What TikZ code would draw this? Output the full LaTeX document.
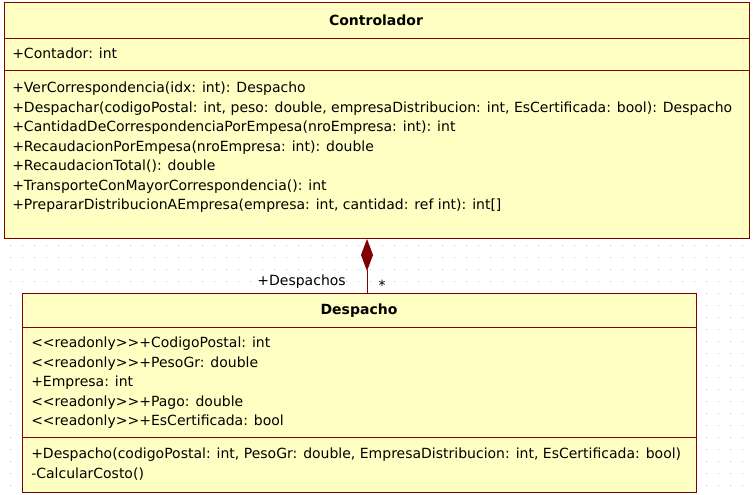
\documentclass[tikz,border=0pt]{standalone}
\usepackage{fontspec}
\setmainfont{DejaVu Sans}
\usetikzlibrary{arrows.meta}
\definecolor{boxfill}{HTML}{FFFFC4}
\definecolor{boxline}{HTML}{800000}
\definecolor{griddot}{HTML}{C4C4C4}
\begin{document}
\begin{tikzpicture}[x=0.75pt,y=-0.75pt,
  classbox/.style={draw=boxline, fill=boxfill, line width=0.75pt, anchor=north west, inner sep=0pt},
  divider/.style={draw=boxline, line width=0.75pt},
  member/.style={anchor=base west, inner sep=0pt, font=\fontsize{10.5}{12}\selectfont},
  title/.style={anchor=base, inner sep=0pt, font=\fontsize{10.5}{12}\selectfont\bfseries},
  lbl/.style={inner sep=0pt, font=\fontsize{10.5}{12}\selectfont}]
\useasboundingbox (0,0) rectangle (754,494);
\fill[white] (0,0) rectangle (754,494);
\foreach \i in {0,...,62} {
  \foreach \j in {0,...,40} {
    \fill[griddot] (10+12*\i,5+12*\j) rectangle ++(1,1);
  }
}
% Controlador
\node[classbox, minimum width=558.75pt, minimum height=177pt] (ctrl) at (4,2) {};
\draw[divider] (ctrl.west |- 0,38) -- (ctrl.east |- 0,38);
\draw[divider] (ctrl.west |- 0,70) -- (ctrl.east |- 0,70);
\node[title] (ctrlt) at (376,25.5) {Controlador};
\node[member] (c0) at (12,58.5) {+Contador: int};
\node[member] (c1) at (12,92.5) {+VerCorrespondencia(idx: int): Despacho};
\node[member] (c2) at (12,112) {+Despachar(codigoPostal: int, peso: double, empresaDistribucion: int, EsCertificada: bool): Despacho};
\node[member] (c3) at (12,131.5) {+CantidadDeCorrespondenciaPorEmpesa(nroEmpresa: int): int};
\node[member] (c4) at (12,151) {+RecaudacionPorEmpesa(nroEmpresa: int): double};
\node[member] (c5) at (12,170.5) {+RecaudacionTotal(): double};
\node[member] (c6) at (12,190) {+TransporteConMayorCorrespondencia(): int};
\node[member] (c7) at (12,209.5) {+PrepararDistribucionAEmpresa(empresa: int, cantidad: ref int): int[]};
% Despacho
\node[classbox, minimum width=505.5pt, minimum height=149.25pt] (desp) at (22,293) {};
\draw[divider] (desp.west |- 0,327) -- (desp.east |- 0,327);
\draw[divider] (desp.west |- 0,437) -- (desp.east |- 0,437);
\node[title] (despt) at (359,314.5) {Despacho};
\node[member] (d0) at (31,347.5) {<{}<readonly>{}>+CodigoPostal: int};
\node[member] (d1) at (31,367) {<{}<readonly>{}>+PesoGr: double};
\node[member] (d2) at (31,386.5) {+Empresa: int};
\node[member] (d3) at (31,406) {<{}<readonly>{}>+Pago: double};
\node[member] (d4) at (31,425.5) {<{}<readonly>{}>+EsCertificada: bool};
\node[member] (d5) at (31,458.5) {+Despacho(codigoPostal: int, PesoGr: double, EmpresaDistribucion: int, EsCertificada: bool)};
\node[member] (d6) at (31,478) {-CalcularCosto()};
% composition
\coordinate (cx) at (367,0);
\draw[divider, -{Diamond[length=24pt,width=9pt,fill=boxline]}] (desp.north -| cx) -- (ctrl.south -| cx);
\node[lbl, anchor=east] (role) at (346,282) {+Despachos};
\node[lbl] (mult) at (382,285) {*};
\end{tikzpicture}
\end{document}
